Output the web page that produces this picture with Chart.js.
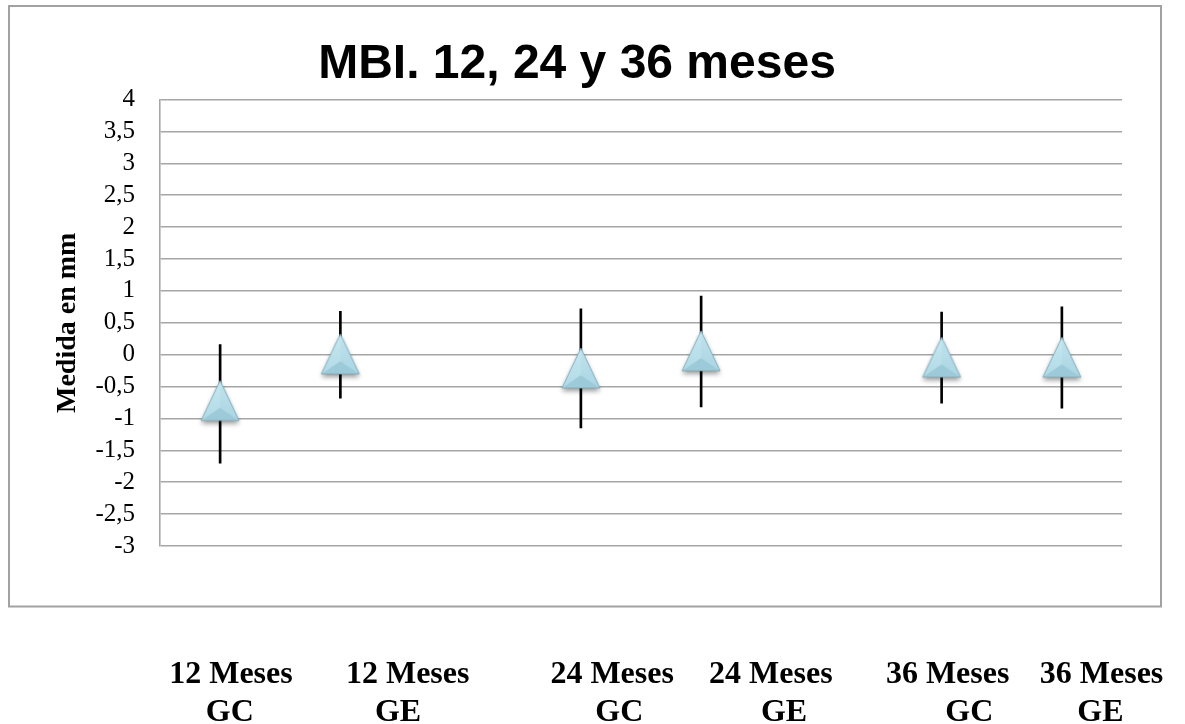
<!DOCTYPE html>
<html>
<head>
<meta charset="utf-8">
<script src="https://cdn.jsdelivr.net/npm/chart.js@4.4.1/dist/chart.umd.min.js"></script>
<style>
  html, body { margin: 0; padding: 0; background: #ffffff; }
  #wrap { width: 1185px; height: 724px; position: relative; }
</style>
</head>
<body>
<div id="wrap"><canvas id="chart" width="1185" height="724"></canvas></div>
<script>
// Axis slots: an empty slot separates each follow-up period
const categories = ['12 Meses GC', '12 Meses GE', '', '24 Meses GC', '24 Meses GE', '', '36 Meses GC', '36 Meses GE'];
// Mean change (mm) and the ends of each error bar
const means = [-0.72, 0.01, null, -0.21, 0.06, null, -0.04, -0.04];
const lower = [-1.70, -0.68, null, -1.15, -0.82, null, -0.76, -0.84];
const upper = [0.16, 0.68, null, 0.72, 0.92, null, 0.67, 0.75];
// Text of the group labels under the frame (two lines each)
const periodLabels = ['12 Meses', '12 Meses', '24 Meses', '24 Meses', '36 Meses', '36 Meses'];
const groupLabels = ['GC', 'GE', 'GC', 'GE', 'GC', 'GE'];
// Y axis range and step
const yMin = -3, yMax = 4, yStep = 0.5;

// Where the two label lines sit, in slot units of the x scale
const periodLabelAt = [0.09, 1.56, 3.26, 4.58, 6.05, 7.33];
const groupLabelAt = [0.08, 1.48, 3.32, 4.69, 6.23, 7.32];

const errorRanges = lower.map((lo, i) => (lo === null ? null : [lo, upper[i]]));

const serif = '"Liberation Serif", "Times New Roman", serif';

// Bevelled light-blue triangle marker with a soft drop shadow
function makeMarker() {
  const w = 38, h = 40, pad = 9;
  const c = document.createElement('canvas');
  c.width = w + pad * 2;
  c.height = h + pad * 2;
  const g = c.getContext('2d');
  const A = [pad + w / 2, pad], L = [pad, pad + h], R = [pad + w, pad + h], C = [pad + w / 2, pad + h * 0.68];
  const tri = (p, q, r) => { g.beginPath(); g.moveTo(p[0], p[1]); g.lineTo(q[0], q[1]); g.lineTo(r[0], r[1]); g.closePath(); };

  g.save();
  g.shadowColor = 'rgba(0,0,0,0.4)';
  g.shadowBlur = 5;
  g.shadowOffsetY = 3;
  tri(A, L, R);
  g.fillStyle = '#b3dae5';
  g.fill();
  g.restore();

  const grad = g.createLinearGradient(0, pad, 0, pad + h);
  grad.addColorStop(0, '#c8e8f1');
  grad.addColorStop(1, '#b0dae6');
  tri(A, L, C); g.fillStyle = grad; g.fill();
  const grad2 = g.createLinearGradient(0, pad, 0, pad + h);
  grad2.addColorStop(0, '#c2e4ee');
  grad2.addColorStop(1, '#a9d5e2');
  tri(A, R, C); g.fillStyle = grad2; g.fill();
  tri(L, R, C); g.fillStyle = '#9dcad8'; g.fill();

  tri(A, L, R);
  g.strokeStyle = 'rgba(115,160,176,0.75)';
  g.lineWidth = 1;
  g.stroke();
  return c;
}

const framePlugin = {
  id: 'frame',
  beforeDraw(chart) {
    const ctx = chart.ctx;
    ctx.save();
    ctx.fillStyle = '#ffffff';
    ctx.fillRect(0, 0, chart.width, chart.height);
    ctx.strokeStyle = '#a2a2a2';
    ctx.lineWidth = 2;
    ctx.strokeRect(9, 6, 1152, 600.5);
    ctx.restore();
  }
};

const groupLabelPlugin = {
  id: 'groupLabels',
  afterDraw(chart) {
    const ctx = chart.ctx;
    const x = chart.scales.x;
    const base = chart.chartArea.bottom;
    ctx.save();
    ctx.fillStyle = '#000000';
    ctx.font = 'bold 32px ' + serif;
    ctx.textAlign = 'center';
    ctx.textBaseline = 'alphabetic';
    periodLabels.forEach((t, i) => {
      ctx.fillText(t, x.getPixelForValue(periodLabelAt[i]), base + 137);
    });
    groupLabels.forEach((t, i) => {
      ctx.fillText(t, x.getPixelForValue(groupLabelAt[i]), base + 175);
    });
    ctx.restore();
  }
};

const gridColor = '#a6a6a6';

new Chart(document.getElementById('chart'), {
  type: 'bar',
  data: {
    labels: categories,
    datasets: [
      {
        type: 'line',
        data: means,
        showLine: false,
        pointStyle: makeMarker(),
        pointRadius: 20,
        pointHoverRadius: 20,
        order: 1
      },
      {
        type: 'bar',
        data: errorRanges,
        backgroundColor: '#000000',
        barThickness: 2,
        order: 2
      }
    ]
  },
  options: {
    responsive: false,
    animation: false,
    devicePixelRatio: 1,
    layout: { padding: { left: 32, right: 63, top: 0, bottom: 178 } },
    plugins: {
      legend: { display: false },
      tooltip: { enabled: false },
      title: {
        display: true,
        text: 'MBI. 12, 24 y 36 meses',
        color: '#000000',
        font: { family: '"Liberation Sans", Arial, sans-serif', size: 48, weight: 'bold' },
        padding: { top: 36, bottom: 6 }
      }
    },
    scales: {
      x: { type: 'category', display: false, offset: true },
      y: {
        min: yMin,
        max: yMax,
        ticks: {
          stepSize: yStep,
          autoSkip: false,
          color: '#000000',
          padding: 25,
          font: { family: serif, size: 25 },
          callback: (v) => String(v).replace('.', ',')
        },
        grid: { color: gridColor, lineWidth: 1.6, drawTicks: false },
        border: { display: true, color: gridColor, width: 1.6 },
        title: {
          display: true,
          text: 'Medida en mm',
          color: '#000000',
          font: { family: serif, size: 28, weight: 'bold' },
          padding: { top: 19, bottom: 0 }
        },
        afterFit(scale) { scale.width = 128; }
      }
    }
  },
  plugins: [framePlugin, groupLabelPlugin]
});
</script>
</body>
</html>
